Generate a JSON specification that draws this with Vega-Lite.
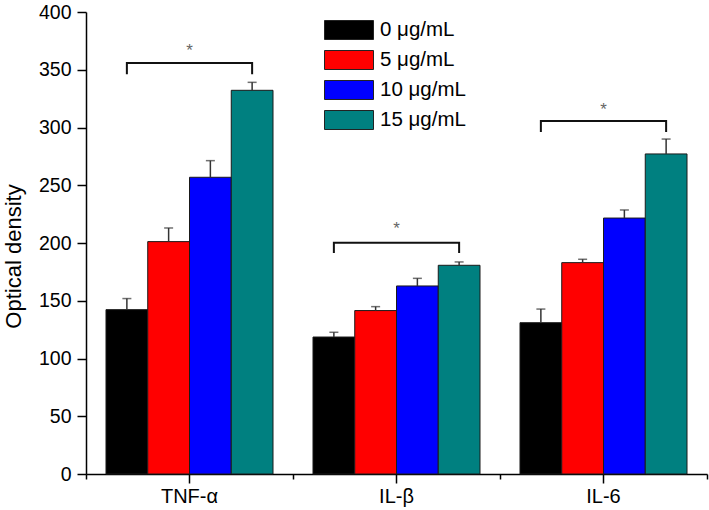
{
  "$schema": "https://vega.github.io/schema/vega-lite/v6.json",
  "width": 621,
  "height": 462,
  "autosize": "none",
  "padding": {"left": 86, "top": 12, "right": 2, "bottom": 36},
  "config": {
    "view": {"stroke": null},
    "font": "Liberation Sans",
    "axis": {"grid": false, "domainColor": "black", "tickColor": "black", "labelColor": "black", "titleColor": "black", "domainWidth": 1.5, "tickWidth": 1.5}
  },
  "datasets": {
    "bars": [
      {"group": "TNF-α", "dose": "0 μg/mL", "value": 142.3, "upper": 151.9},
      {"group": "TNF-α", "dose": "5 μg/mL", "value": 201.2, "upper": 213.0},
      {"group": "TNF-α", "dose": "10 μg/mL", "value": 256.9, "upper": 271.3},
      {"group": "TNF-α", "dose": "15 μg/mL", "value": 332.2, "upper": 339.1},
      {"group": "IL-β", "dose": "0 μg/mL", "value": 118.6, "upper": 122.7},
      {"group": "IL-β", "dose": "5 μg/mL", "value": 141.5, "upper": 144.9},
      {"group": "IL-β", "dose": "10 μg/mL", "value": 162.8, "upper": 169.4},
      {"group": "IL-β", "dose": "15 μg/mL", "value": 180.7, "upper": 183.6},
      {"group": "IL-6", "dose": "0 μg/mL", "value": 131.0, "upper": 142.8},
      {"group": "IL-6", "dose": "5 μg/mL", "value": 183.0, "upper": 185.9},
      {"group": "IL-6", "dose": "10 μg/mL", "value": 221.6, "upper": 228.6},
      {"group": "IL-6", "dose": "15 μg/mL", "value": 277.1, "upper": 290.0}
    ],
    "brackets": [
      {"group": "TNF-α", "dose": "0 μg/mL", "y": 346.0, "ord": 1},
      {"group": "TNF-α", "dose": "0 μg/mL", "y": 355.9, "ord": 2},
      {"group": "TNF-α", "dose": "15 μg/mL", "y": 355.9, "ord": 3},
      {"group": "TNF-α", "dose": "15 μg/mL", "y": 346.0, "ord": 4},
      {"group": "IL-β", "dose": "0 μg/mL", "y": 191.3, "ord": 1},
      {"group": "IL-β", "dose": "0 μg/mL", "y": 200.3, "ord": 2},
      {"group": "IL-β", "dose": "15 μg/mL", "y": 200.3, "ord": 3},
      {"group": "IL-β", "dose": "15 μg/mL", "y": 191.3, "ord": 4},
      {"group": "IL-6", "dose": "0 μg/mL", "y": 296.1, "ord": 1},
      {"group": "IL-6", "dose": "0 μg/mL", "y": 305.6, "ord": 2},
      {"group": "IL-6", "dose": "15 μg/mL", "y": 305.6, "ord": 3},
      {"group": "IL-6", "dose": "15 μg/mL", "y": 296.1, "ord": 4}
    ],
    "stars": [
      {"group": "TNF-α", "y": 362.0, "label": "*"},
      {"group": "IL-β", "y": 207.6, "label": "*"},
      {"group": "IL-6", "y": 310.6, "label": "*"}
    ]
  },
  "resolve": {"axis": {"x": "independent"}},
  "layer": [
    {
      "data": {"name": "bars"},
      "mark": {"type": "bar", "stroke": "#1a1a1a", "strokeWidth": 1},
      "encoding": {
        "x": {"field": "group", "type": "nominal", "sort": ["TNF-α", "IL-β", "IL-6"],
              "scale": {"paddingInner": 0, "paddingOuter": 0},
              "axis": {"title": null, "labelFontSize": 20, "tickSize": 9, "labelPadding": 3, "labelAngle": 0}},
        "xOffset": {"field": "dose", "type": "nominal", "sort": ["0 μg/mL", "5 μg/mL", "10 μg/mL", "15 μg/mL"],
                    "scale": {"paddingInner": 0, "paddingOuter": 0.479}},
        "y": {"field": "value", "type": "quantitative",
              "scale": {"domain": [0, 400], "nice": false},
              "axis": {"title": "Optical density", "titleFontSize": 22, "titleFontWeight": "normal", "titlePadding": 13, "titleY": 244,
                       "values": [0, 25, 50, 75, 100, 125, 150, 175, 200, 225, 250, 275, 300, 325, 350, 375, 400],
                       "labelExpr": "datum.value % 50 === 0 ? datum.label : ''",
                       "tickSize": {"condition": {"test": "datum.value % 50 === 0", "value": 9}, "value": 5},
                       "labelFontSize": 19.5, "labelPadding": 6}},
        "color": {"field": "dose", "type": "nominal", "sort": ["0 μg/mL", "5 μg/mL", "10 μg/mL", "15 μg/mL"],
                  "scale": {"range": ["#000000", "#ff0000", "#0000ff", "#008080"]},
                  "legend": {"title": null, "orient": "none", "legendX": 252.5, "legendY": 7.5, "padding": 0,
                             "labelFontSize": 20.5, "labelFont": "Liberation Sans", "labelColor": "black",
                             "symbolType": "M-2.45,-0.95H2.45V0.95H-2.45Z", "symbolSize": 400,
                             "symbolStrokeColor": "#222", "symbolStrokeWidth": 1, "symbolOpacity": 1,
                             "rowPadding": 7, "labelOffset": 20.5}}
      }
    },
    {
      "data": {"name": "bars"},
      "mark": {"type": "rule", "color": "#333", "strokeWidth": 1.5},
      "encoding": {
        "x": {"field": "group", "type": "nominal", "sort": ["TNF-α", "IL-β", "IL-6"], "axis": null},
        "xOffset": {"field": "dose", "type": "nominal", "sort": ["0 μg/mL", "5 μg/mL", "10 μg/mL", "15 μg/mL"]},
        "y": {"field": "value", "type": "quantitative", "title": "Optical density"},
        "y2": {"field": "upper"}
      }
    },
    {
      "data": {"name": "bars"},
      "mark": {"type": "tick", "color": "#333", "thickness": 1.5, "size": 9},
      "encoding": {
        "x": {"field": "group", "type": "nominal", "sort": ["TNF-α", "IL-β", "IL-6"], "axis": null},
        "xOffset": {"field": "dose", "type": "nominal", "sort": ["0 μg/mL", "5 μg/mL", "10 μg/mL", "15 μg/mL"]},
        "y": {"field": "upper", "type": "quantitative", "title": "Optical density"}
      }
    },
    {
      "data": {"name": "brackets"},
      "mark": {"type": "line", "color": "#111", "strokeWidth": 2},
      "encoding": {
        "x": {"field": "group", "type": "nominal", "sort": ["TNF-α", "IL-β", "IL-6"], "axis": null},
        "xOffset": {"field": "dose", "type": "nominal", "sort": ["0 μg/mL", "5 μg/mL", "10 μg/mL", "15 μg/mL"]},
        "y": {"field": "y", "type": "quantitative", "title": "Optical density"},
        "detail": {"field": "group"},
        "order": {"field": "ord", "type": "quantitative"}
      }
    },
    {
      "data": {"name": "stars"},
      "mark": {"type": "text", "fontSize": 17, "color": "#666", "baseline": "alphabetic"},
      "encoding": {
        "x": {"field": "group", "type": "nominal", "sort": ["TNF-α", "IL-β", "IL-6"],
              "axis": {"orient": "bottom", "tickBand": "extent", "tickSize": 5, "labels": false, "domain": false, "title": null, "tickExtra": true}},
        "y": {"field": "y", "type": "quantitative", "title": "Optical density"},
        "text": {"field": "label"}
      }
    }
  ]
}
